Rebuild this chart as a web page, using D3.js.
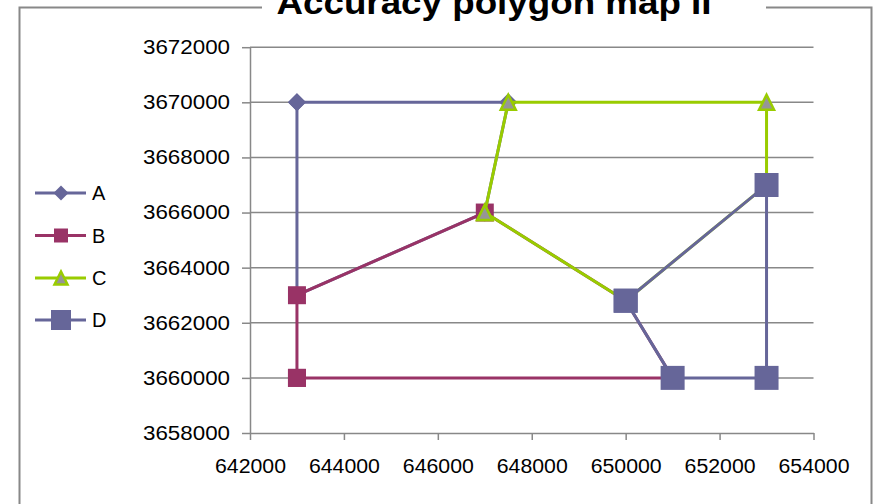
<!DOCTYPE html>
<html><head><meta charset="utf-8">
<script src="https://cdn.jsdelivr.net/npm/d3@7"></script>
<style>body{margin:0;background:#fff}svg{display:block;font-family:"Liberation Sans",Arial,sans-serif}</style>
</head><body><svg id="c" width="875" height="504"></svg>
<script>
const title = "Accuracy polygon map II";
const xTicks = [642000,644000,646000,648000,650000,652000,654000];
const yTicks = [3658000,3660000,3662000,3664000,3666000,3668000,3670000,3672000];
const seriesNames = ["A","B","C","D"];
const seriesA = [[643000,3670000],[647500,3670000],[647000,3666000],[643000,3663000],[643000,3670000]];
const seriesB = [[643000,3660000],[643000,3663000],[647000,3666000],[650000,3662800],[651000,3660000],[643000,3660000]];
const seriesC = [[647000,3666000],[647500,3670000],[653000,3670000],[653000,3667000],[650000,3662800],[647000,3666000]];
const seriesD = [[650000,3662800],[651000,3660000],[653000,3660000],[653000,3667000],[650000,3662800]];

const svg = d3.select("#c");
const x = d3.scaleLinear().domain([642000,654000]).range([250,813.5]);
const y = d3.scaleLinear().domain([3658000,3672000]).range([433,47.2]);
const grid = "#888888";

// outer frame with gap for title
svg.append("path").attr("d","M262,7.5 H19.5 V515 M766,7.5 H871.5 V515")
  .attr("fill","none").attr("stroke",grid).attr("stroke-width",2);
svg.append("text").attr("x",494).attr("y",14).attr("text-anchor","middle")
  .attr("font-size",33).attr("font-weight","bold").attr("textLength",435)
  .attr("lengthAdjust","spacingAndGlyphs").text(title);

// gridlines
svg.append("g").selectAll("line").data(yTicks.slice(1)).join("line")
  .attr("x1",x.range()[0]).attr("x2",x.range()[1])
  .attr("y1",d=>y(d)).attr("y2",d=>y(d))
  .attr("stroke",grid).attr("stroke-width",1.5);

const fmt = d3.format("d");
const gy = svg.append("g").attr("transform",`translate(${x.range()[0]},0)`)
  .call(d3.axisLeft(y).tickValues(yTicks).tickFormat(fmt).tickSize(8).tickSizeOuter(0).tickPadding(12));
const gx = svg.append("g").attr("transform",`translate(0,${y.range()[0]})`)
  .call(d3.axisBottom(x).tickValues(xTicks).tickFormat(fmt).tickSize(7).tickSizeOuter(0).tickPadding(19));
[gy,gx].forEach(g=>{
  g.select(".domain").attr("stroke",grid).attr("stroke-width",1.5);
  g.selectAll(".tick line").attr("stroke",grid).attr("stroke-width",1.5);
  g.selectAll(".tick text").attr("fill","#000").attr("font-size",20)
   .attr("font-family","'Liberation Sans',Arial,sans-serif").attr("lengthAdjust","spacingAndGlyphs");
});
gy.selectAll(".tick text").attr("textLength",87);
gx.selectAll(".tick text").attr("textLength",71);

const styles = [
  {data:seriesA, color:"#666699", shape:"diamond", fill:"#666699", stroke:"none", size:18, lsize:15},
  {data:seriesB, color:"#993366", shape:"square", fill:"#993366", stroke:"none", size:18, lsize:14},
  {data:seriesC, color:"#99CC00", shape:"triangle", fill:"#969696", stroke:"#99CC00", size:18, lsize:16},
  {data:seriesD, color:"#666699", shape:"square", fill:"#666699", stroke:"none", size:24, lsize:20}
];
function marker(g, s, cx, cy, sz){
  const h = sz/2;
  let d;
  if(s.shape==="diamond") d=`M${cx},${cy-h}L${cx+h},${cy}L${cx},${cy+h}L${cx-h},${cy}Z`;
  else if(s.shape==="square") d=`M${cx-h},${cy-h}H${cx+h}V${cy+h}H${cx-h}Z`;
  else { const sw=1.5; d=`M${cx},${cy-h+sw}L${cx+h-sw},${cy+h-sw}L${cx-h+sw},${cy+h-sw}Z`; }
  g.append("path").attr("d",d).attr("fill",s.fill)
   .attr("stroke",s.stroke).attr("stroke-width",s.stroke==="none"?0:2.5);
}
const line = d3.line().x(d=>x(d[0])).y(d=>y(d[1]));
styles.forEach(s=>{
  const g = svg.append("g");
  g.append("path").attr("d",line(s.data)).attr("fill","none")
   .attr("stroke",s.color).attr("stroke-width",3).attr("stroke-linejoin","round");
  s.data.forEach(p=>marker(g,s,x(p[0]),y(p[1]),s.size));
});

// legend
const legY = [193,235.5,278,320];
styles.forEach((s,i)=>{
  const g = svg.append("g");
  g.append("line").attr("x1",35).attr("x2",86).attr("y1",legY[i]).attr("y2",legY[i])
   .attr("stroke",s.color).attr("stroke-width",3);
  marker(g,s,61,legY[i],s.lsize);
  g.append("text").attr("x",92).attr("y",legY[i]).attr("dy","0.35em")
   .attr("font-size",20).text(seriesNames[i]);
});
</script></body></html>
